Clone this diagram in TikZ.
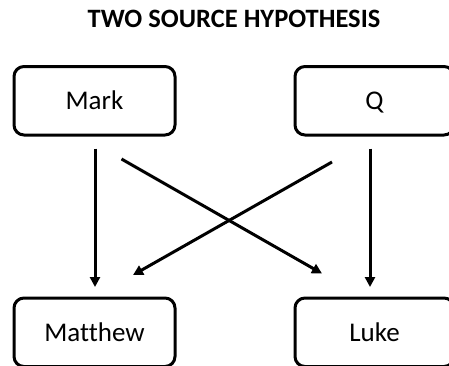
\documentclass[tikz,border=0pt]{standalone}
\usepackage{fontspec}
\setmainfont{Carlito}[Ligatures=NoCommon]
\usetikzlibrary{arrows.meta}
\begin{document}
\begin{tikzpicture}[x=1pt,y=-1pt,
  srcbox/.style={draw=black, line width=3pt, rounded corners=10pt, inner sep=0pt,
    minimum height=68.5pt, text height=17.5pt, text depth=0pt,
    font=\fontsize{27}{30}\selectfont},
  arr/.style={line width=3pt, -{Triangle[length=10pt,width=10pt]}},
  titlestyle/.style={inner sep=0pt, anchor=base, font=\fontsize{26.5}{30}\selectfont\bfseries}]
\useasboundingbox (0,0) rectangle (449,365);
\clip (0,0) rectangle (449,365);
\node[titlestyle] (title) at (234,27) {TWO SOURCE HYPOTHESIS};
\node[srcbox, minimum width=161pt] (mark) at (94.5,100.75) {Mark};
\node[srcbox, minimum width=159pt] (q) at (374.5,100.75) {Q};
\node[srcbox, minimum width=161pt] (matt) at (94.5,332.25) {Matthew};
\node[srcbox, minimum width=159pt] (luke) at (374.5,332.25) {Luke};
\coordinate (markdownS) at (95,148.5);
\coordinate (markdownE) at (95,287);
\coordinate (qdownS) at (370,148.5);
\coordinate (qdownE) at (370,287);
\coordinate (markdiagS) at (121.5,159);
\coordinate (markdiagE) at (322,273.5);
\coordinate (qdiagS) at (332,162);
\coordinate (qdiagE) at (133,275);
\draw[arr] (markdownS) -- (markdownE);
\draw[arr] (qdownS) -- (qdownE);
\draw[arr] (markdiagS) -- (markdiagE);
\draw[arr] (qdiagS) -- (qdiagE);
\end{tikzpicture}
\end{document}
